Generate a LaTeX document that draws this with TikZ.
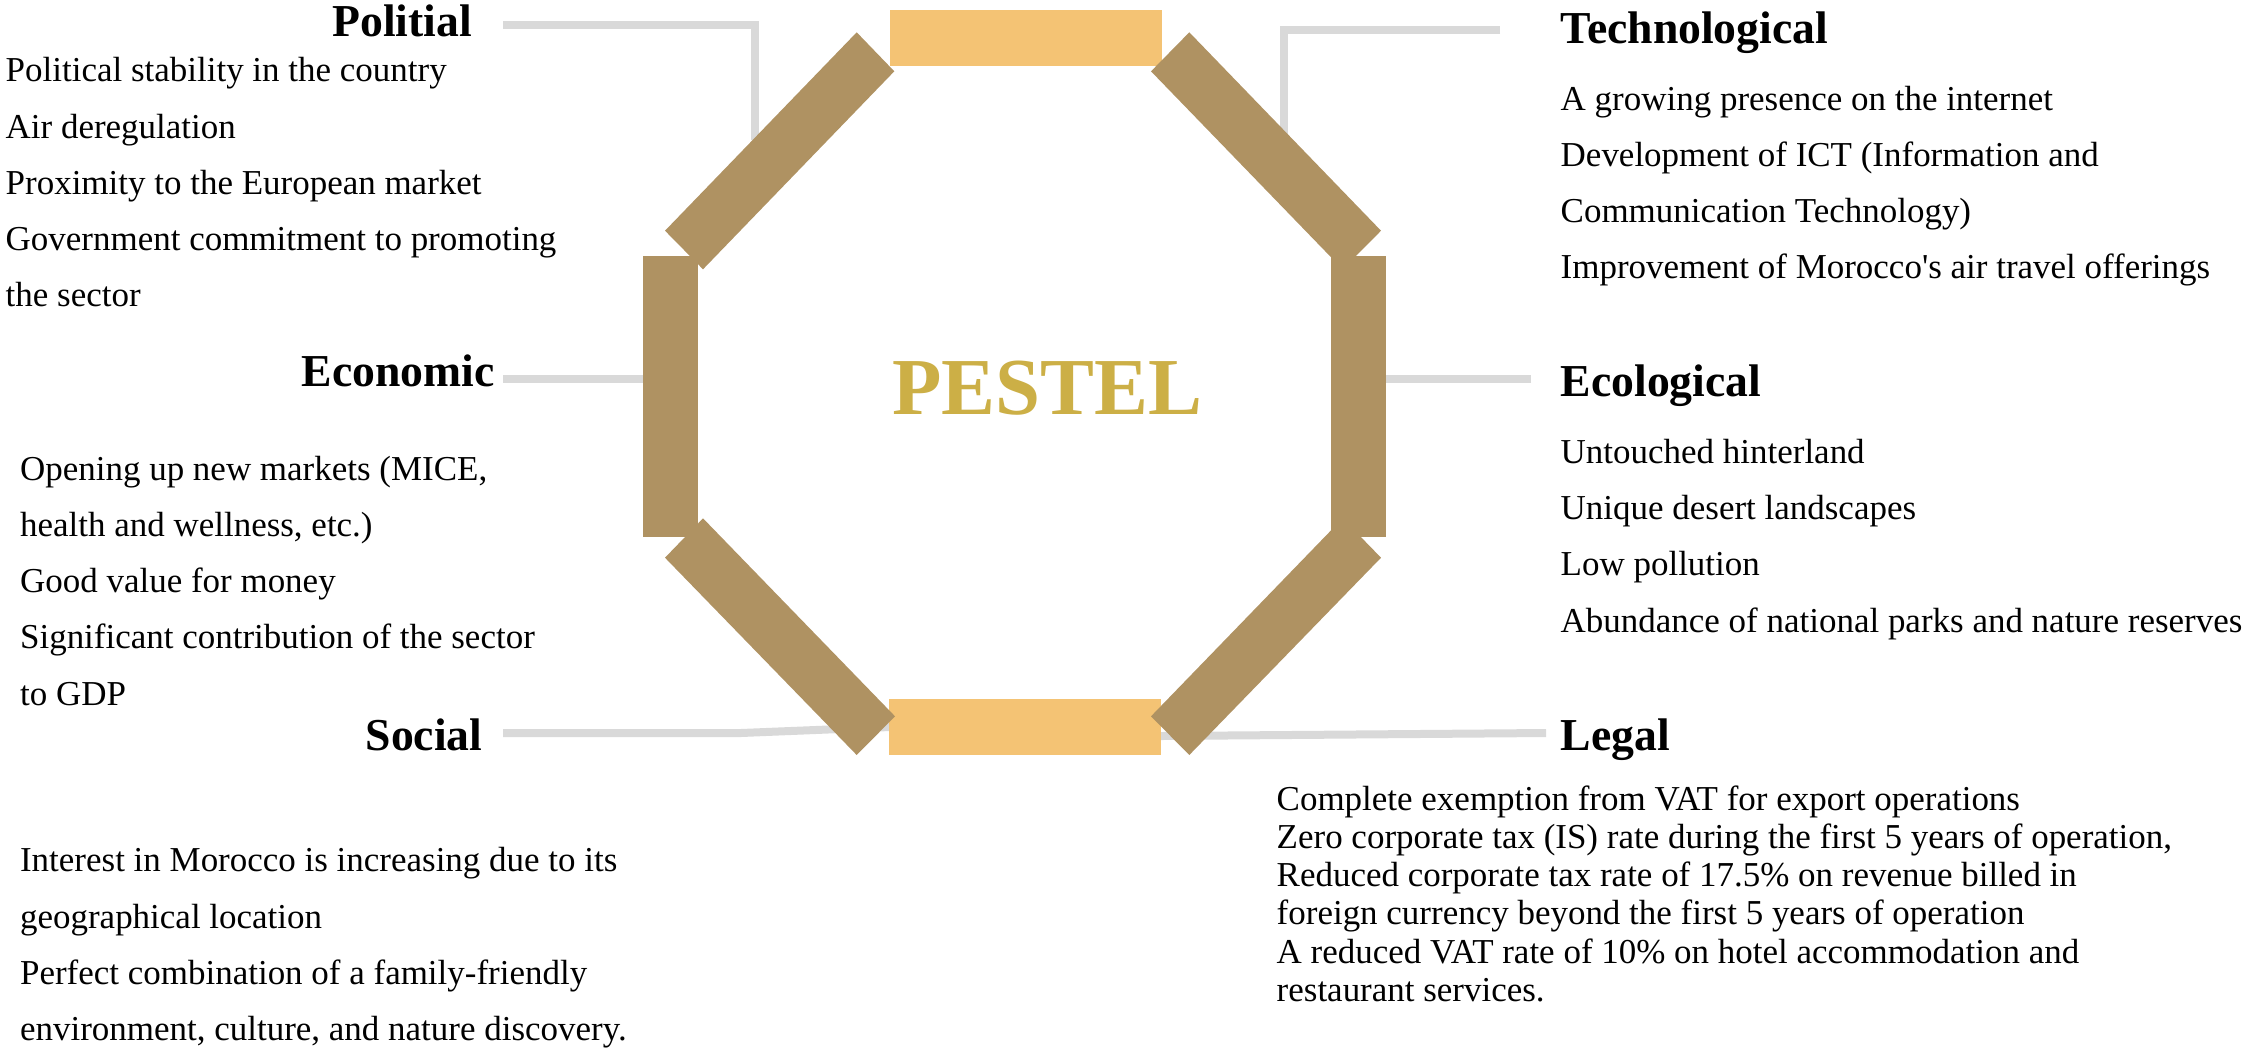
\documentclass[tikz,border=0pt]{standalone}
\usepackage{fontspec}
\setmainfont{Liberation Serif}
\definecolor{bronze}{HTML}{AF9262}
\definecolor{apricot}{HTML}{F4C374}
\definecolor{gold}{HTML}{CCAF46}
\definecolor{linkgray}{HTML}{D9D9D9}

\begin{document}
\begin{tikzpicture}[x=0.1mm, y=-0.1mm,
  frame/.style={fill=bronze},
  capbox/.style={fill=apricot},
  connector/.style={draw=linkgray, line width=0.8mm},
  heading/.style={anchor=base west, inner sep=0pt, font=\fontsize{13}{15}\selectfont\bfseries},
  entry/.style={anchor=base west, inner sep=0pt, font=\fontsize{9.95}{12}\selectfont}]
\useasboundingbox (0,0) rectangle (2259,1049);

% connector end points
\coordinate (polA) at (503,24.8);
\coordinate (polB) at (754.7,24.8);
\coordinate (polC) at (754.7,140);
\coordinate (tecA) at (1500,29.5);
\coordinate (tecB) at (1283.5,29.5);
\coordinate (tecC) at (1283.5,140);
\coordinate (ecoA) at (503,379.3);
\coordinate (ecoB) at (660,379.3);
\coordinate (eclA) at (1531,379.2);
\coordinate (eclB) at (1370,379.2);
\coordinate (socA) at (503,733);
\coordinate (socB) at (740.7,733);
\coordinate (socC) at (890,727);
\coordinate (legA) at (1546,733);
\coordinate (legB) at (1161,736);

\draw[connector] (polA) -- (polB) -- (polC);
\draw[connector] (tecA) -- (tecB) -- (tecC);
\draw[connector] (ecoA) -- (ecoB);
\draw[connector] (eclA) -- (eclB);
\draw[connector] (socA) -- (socB) -- (socC);
\draw[connector] (legA) -- (legB);

% octagon frame
\fill[capbox] (890,10) rectangle (1161.5,65.7);
\fill[capbox] (889,699) rectangle (1160.8,754.7);
\fill[frame] (643,256) rectangle (697.7,536.7);
\fill[frame] (1331,256) rectangle (1386,536.7);
\fill[frame] (665,230.7) -- (856.7,32.3) -- (894.3,71.3) -- (703,269.3) -- cycle;
\fill[frame] (1189.3,32.3) -- (1381,230.7) -- (1342.7,269.3) -- (1151,71.3) -- cycle;
\fill[frame] (665,557.7) -- (703,518.3) -- (895,716.3) -- (856.7,755) -- cycle;
\fill[frame] (1381,557.7) -- (1342.7,518.3) -- (1151,716.3) -- (1189.3,755) -- cycle;

\node[anchor=base west, inner sep=0pt, text=gold, font=\fontsize{23}{28}\selectfont\bfseries] (pestel) at (891.7,414.3) {PESTEL};

% headings
\node[heading] (political) at (331.6,36.7) {Politial};
\node[heading] (economic) at (301,386.7) {Economic};
\node[heading] (social) at (365,750) {Social};
\node[heading] (technological) at (1560,43) {Technological};
\node[heading] (ecological) at (1560,396.7) {Ecological};
\node[heading] (legal) at (1560,750) {Legal};

% lists
\foreach \t [count=\i from 0] in {Political stability in the country, Air deregulation, Proximity to the European market, Government commitment to promoting, the sector}
  \node[entry] (pol\i) at (5,81.7+56.3*\i) {\t};
\foreach \t [count=\i from 0] in {{Opening up new markets (MICE,}, {health and wellness, etc.)}, Good value for money, Significant contribution of the sector, to GDP}
  \node[entry] (eco\i) at (19.4,480+56.3*\i) {\t};
\foreach \t [count=\i from 0] in {Interest in Morocco is increasing due to its, geographical location, Perfect combination of a family-friendly, {environment, culture, and nature discovery.}}
  \node[entry] (soc\i) at (19.4,871.7+56.3*\i) {\t};
\foreach \t [count=\i from 0] in {A growing presence on the internet, Development of ICT (Information and, Communication Technology), Improvement of Morocco\textquotesingle s air travel offerings}
  \node[entry] (tec\i) at (1560,110+56.3*\i) {\t};
\foreach \t [count=\i from 0] in {Untouched hinterland, Unique desert landscapes, Low pollution, Abundance of national parks and nature reserves}
  \node[entry] (ecl\i) at (1560,463.3+56.3*\i) {\t};
\foreach \t [count=\i from 0] in {Complete exemption from VAT for export operations, {Zero corporate tax (IS) rate during the first 5 years of operation,}, Reduced corporate tax rate of 17.5\% on revenue billed in, foreign currency beyond the first 5 years of operation, A reduced VAT rate of 10\% on hotel accommodation and, restaurant services.}
  \node[entry] (leg\i) at (1276,810+38.3*\i) {\t};
\end{tikzpicture}
\end{document}
